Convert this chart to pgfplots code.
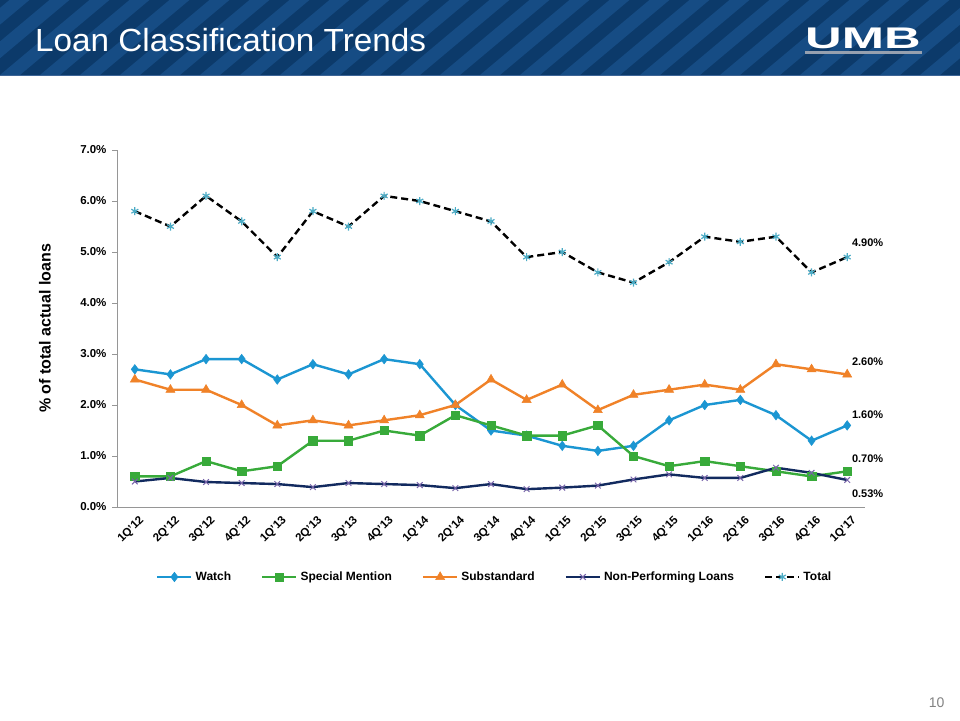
\documentclass[border=0pt]{standalone}
\usepackage{pgfplots}
\pgfplotsset{compat=1.18}
\usepackage{fontspec}
\setmainfont{Liberation Sans}
\usetikzlibrary{plotmarks}
\definecolor{hdrdark}{RGB}{12,58,106}
\definecolor{hdrlight}{RGB}{22,76,132}
\definecolor{hdrline}{RGB}{60,100,150}
\definecolor{logobar}{RGB}{150,160,175}
\definecolor{cWatch}{RGB}{27,150,210}
\definecolor{cSM}{RGB}{56,170,58}
\definecolor{cSub}{RGB}{240,130,40}
\definecolor{cNPL}{RGB}{18,42,95}
\definecolor{cNPLm}{RGB}{120,100,170}
\definecolor{cTotm}{RGB}{75,172,198}
\definecolor{axgray}{RGB}{150,150,150}
\definecolor{numgray}{RGB}{130,130,130}

\pgfplotstableread{
x watch sm sub npl total
0  2.7 0.6 2.5 0.50 5.8
1  2.6 0.6 2.3 0.57 5.5
2  2.9 0.9 2.3 0.49 6.1
3  2.9 0.7 2.0 0.47 5.6
4  2.5 0.8 1.6 0.45 4.9
5  2.8 1.3 1.7 0.39 5.8
6  2.6 1.3 1.6 0.47 5.5
7  2.9 1.5 1.7 0.45 6.1
8  2.8 1.4 1.8 0.43 6.0
9  2.0 1.8 2.0 0.37 5.8
10 1.5 1.6 2.5 0.45 5.6
11 1.4 1.4 2.1 0.35 4.9
12 1.2 1.4 2.4 0.38 5.0
13 1.1 1.6 1.9 0.42 4.6
14 1.2 1.0 2.2 0.54 4.4
15 1.7 0.8 2.3 0.64 4.8
16 2.0 0.9 2.4 0.57 5.3
17 2.1 0.8 2.3 0.57 5.2
18 1.8 0.7 2.8 0.77 5.3
19 1.3 0.6 2.7 0.67 4.6
20 1.6 0.7 2.6 0.53 4.9
}\loandata

\begin{document}
\begin{tikzpicture}
\useasboundingbox (0pt,0pt) rectangle (960pt,-720pt);
\fill[white] (0pt,0pt) rectangle (960pt,-720pt);
% header
\begin{scope}
\clip (0pt,0pt) rectangle (960pt,-75pt);
\fill[hdrdark] (0pt,0pt) rectangle (960pt,-75pt);
\foreach \i in {-4,...,26} {
  \fill[hdrlight] (\i*40pt,-75pt) -- ++(20pt,0pt) -- ++(89.4pt,75pt) -- ++(-20pt,0pt) -- cycle;
}
\end{scope}
\draw[hdrline, line width=1.5pt] (0pt,-75.5pt) -- (960pt,-75.5pt);
\node[anchor=west, text=white, font=\fontsize{32}{32}\selectfont, inner sep=0pt] at (35pt,-40pt) {\scalebox{1.04}[1]{Loan Classification Trends}};
\node[anchor=center, text=white, font=\fontsize{29}{29}\bfseries\selectfont, inner sep=0pt] at (863pt,-38pt) {\scalebox{1.75}[1.03]{UMB}};
\fill[logobar] (805pt,-51pt) rectangle (922pt,-53.5pt);
\node[anchor=east, text=numgray, font=\fontsize{14}{14}\selectfont] at (948pt,-703pt) {10};

\begin{axis}[
  at={(117pt,-507pt)}, anchor=south west,
  scale only axis, width=748pt, height=357pt,
  xmin=-0.5, xmax=20.5, ymin=0, ymax=7,
  axis lines=left,
  axis line style={-, axgray, line width=0.8pt},
  tick align=outside,
  xtick={0,...,20},
  xticklabels={1Q'12,2Q'12,3Q'12,4Q'12,1Q'13,2Q'13,3Q'13,4Q'13,1Q'14,2Q'14,3Q'14,4Q'14,1Q'15,2Q'15,3Q'15,4Q'15,1Q'16,2Q'16,3Q'16,4Q'16,1Q'17},
  x tick style={draw=none},
  minor xtick={-0.5,0.5,...,20.5},
  minor x tick style={axgray, line width=0.8pt},
  minor tick length=5pt,
  ytick={0,1,...,7},
  y tick style={axgray, line width=0.8pt},
  major tick length=5pt,
  /pgf/number format/assume math mode=true,
  yticklabel={\pgfmathprintnumber[fixed,fixed zerofill,precision=1]{\tick}\%},
  yticklabel style={font=\fontsize{11.5}{11.5}\bfseries\selectfont, xshift=-2pt},
  xticklabel style={font=\fontsize{11.5}{11.5}\bfseries\selectfont, rotate=45, anchor=east, xshift=4pt, yshift=-10pt},
  ylabel={\% of total actual loans},
  every axis y label/.style={at={(axis description cs:0,0.5)}, rotate=90, anchor=center, yshift=72pt, font=\fontsize{16}{16}\bfseries\selectfont},
  clip=false,
  legend columns=5,
  legend style={at={(0.505,-0.196)}, anchor=center, draw=none, fill=none,
    font=\fontsize{12}{12}\bfseries\selectfont,
    /tikz/every even column/.append style={column sep=28pt},
    /tikz/every odd column/.append style={column sep=1pt}},
  legend image code/.code={\draw[mark repeat=2,mark phase=2] plot coordinates {(0pt,0pt) (17pt,0pt) (34pt,0pt)};},
]
\addplot[cWatch, line width=2.4pt, mark=diamond*, mark size=4.8pt, mark options={solid, fill=cWatch, draw=cWatch, line width=0.5pt}] table[x=x,y=watch] {\loandata};
\addlegendentry{Watch}
\addplot[cSM, line width=2.4pt, mark=square*, mark size=4.2pt, mark options={solid, fill=cSM, draw=cSM, line width=0.5pt}] table[x=x,y=sm] {\loandata};
\addlegendentry{Special Mention}
\addplot[cSub, line width=2.4pt, mark=triangle*, mark size=5.2pt, mark options={solid, fill=cSub, draw=cSub, line width=0.5pt}] table[x=x,y=sub] {\loandata};
\addlegendentry{Substandard}
\addplot[cNPL, line width=2.4pt, mark=x, mark size=4pt, mark options={solid, draw=cNPLm, line width=1pt}] table[x=x,y=npl] {\loandata};
\addlegendentry{Non-Performing Loans}
\addplot[black, line width=2.4pt, dash pattern=on 7pt off 4pt, mark=asterisk, mark size=4pt, mark options={solid, draw=cTotm, line width=1.2pt}] table[x=x,y=total] {\loandata};
\addlegendentry{Total}
\node[anchor=west, font=\fontsize{11}{11}\bfseries\selectfont, inner sep=0pt] at (axis cs:20.13,5.18) {4.90\%};
\node[anchor=west, font=\fontsize{11}{11}\bfseries\selectfont, inner sep=0pt] at (axis cs:20.13,2.84) {2.60\%};
\node[anchor=west, font=\fontsize{11}{11}\bfseries\selectfont, inner sep=0pt] at (axis cs:20.13,1.80) {1.60\%};
\node[anchor=west, font=\fontsize{11}{11}\bfseries\selectfont, inner sep=0pt] at (axis cs:20.13,0.94) {0.70\%};
\node[anchor=west, font=\fontsize{11}{11}\bfseries\selectfont, inner sep=0pt] at (axis cs:20.13,0.27) {0.53\%};
\end{axis}
\end{tikzpicture}
\end{document}
